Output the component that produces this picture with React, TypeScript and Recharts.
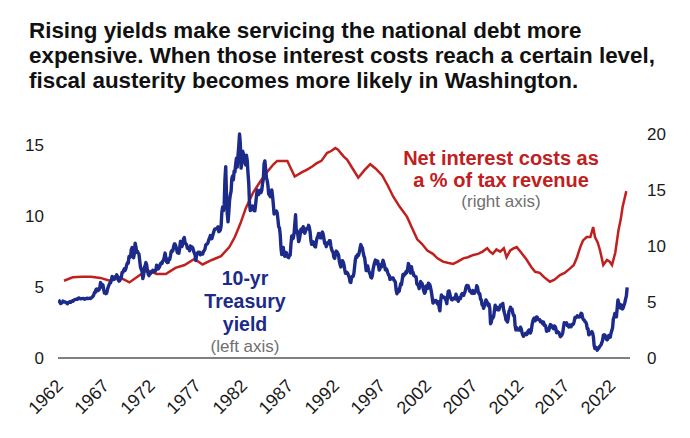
import React from 'react';
import { LineChart, Line, XAxis, YAxis } from 'recharts';

// 10-year Treasury yield, monthly, percent (left axis)
const yield1960s = [
  4.08, 4.04, 3.93, 3.84, 3.87, 3.91, 4.01, 3.98, 3.98, 3.93, 3.92, 3.86,
  3.83, 3.92, 3.93, 3.97, 3.93, 3.99, 4.02, 4.0, 4.08, 4.11, 4.12, 4.13,
  4.17, 4.15, 4.22, 4.23, 4.2, 4.17, 4.19, 4.19, 4.2, 4.19, 4.15, 4.18,
  4.19, 4.21, 4.21, 4.2, 4.21, 4.21, 4.2, 4.25, 4.29, 4.35, 4.45, 4.62,
  4.61, 4.83, 4.87, 4.75, 4.78, 4.81, 5.02, 5.32, 5.18, 5.01, 5.16, 4.84,
  4.58, 4.63, 4.54, 4.59, 4.85, 5.02, 5.16, 5.28, 5.3, 5.48, 5.75, 5.7,
  5.53, 5.56, 5.74, 5.64, 5.87, 5.72, 5.5, 5.42, 5.46, 5.58, 5.7, 6.03,
  6.04, 6.19, 6.3, 6.17, 6.32, 6.57, 6.72, 6.69, 7.16, 7.1, 7.14, 7.65,
];
const yield1970s = [
  7.79, 7.24, 7.07, 7.39, 8.1, 7.84, 7.46, 7.53, 7.39, 7.33, 6.84, 6.39,
  6.24, 6.11, 5.6, 5.83, 6.39, 6.52, 6.73, 6.58, 6.14, 5.93, 5.81, 5.93,
  5.95, 6.08, 6.07, 6.19, 6.13, 6.11, 6.11, 6.21, 6.55, 6.48, 6.28, 6.36,
  6.46, 6.64, 6.71, 6.67, 6.85, 6.9, 7.13, 7.4, 7.09, 6.79, 6.73, 6.74,
  6.99, 6.96, 7.21, 7.51, 7.58, 7.54, 7.81, 8.04, 8.04, 7.9, 7.68, 7.43,
  7.5, 7.39, 7.73, 8.23, 8.06, 7.86, 8.06, 8.4, 8.5, 8.14, 8.05, 8.0,
  7.74, 7.79, 7.73, 7.56, 7.9, 7.86, 7.83, 7.77, 7.59, 7.41, 7.29, 6.87,
  7.21, 7.39, 7.46, 7.37, 7.46, 7.28, 7.33, 7.4, 7.34, 7.52, 7.58, 7.69,
  7.96, 8.03, 8.04, 8.15, 8.35, 8.46, 8.64, 8.41, 8.42, 8.64, 8.81, 9.01,
  9.1, 9.1, 9.12, 9.18, 9.25, 8.91, 8.95, 9.03, 9.33, 10.3, 10.65, 10.39,
];
const yield1980s = [
  10.8, 12.6, 13.5, 11.47, 10.18, 9.6, 10.25, 11.1, 11.51, 11.75, 12.68, 12.84,
  12.57, 13.19, 13.12, 13.68, 14.1, 13.47, 14.28, 14.94, 15.8, 15.15, 13.39, 13.72,
  14.59, 14.43, 13.86, 13.87, 13.62, 14.3, 13.95, 13.06, 12.34, 10.91, 10.4, 10.54,
  10.46, 10.72, 10.51, 10.4, 10.38, 10.85, 11.38, 11.85, 11.65, 11.54, 11.69, 11.83,
  11.67, 11.84, 12.32, 12.63, 13.7, 13.9, 13.36, 12.72, 12.52, 12.16, 11.57, 11.5,
  11.38, 11.51, 11.86, 11.43, 10.85, 10.16, 10.31, 10.33, 10.37, 10.24, 9.78, 9.26,
  9.19, 8.7, 7.78, 7.3, 7.71, 7.8, 7.3, 7.17, 7.45, 7.43, 7.25, 7.11,
  7.08, 7.25, 7.25, 8.02, 8.61, 8.4, 8.45, 8.76, 9.42, 10.1, 8.86, 8.99,
  8.67, 8.21, 8.37, 8.72, 9.09, 8.92, 9.06, 9.26, 8.98, 8.8, 8.96, 9.11,
  9.09, 9.17, 9.36, 9.18, 8.86, 8.28, 8.02, 8.11, 8.19, 8.01, 7.87, 7.84,
];
const yield1990s = [
  8.21, 8.47, 8.59, 8.79, 8.76, 8.48, 8.47, 8.75, 8.89, 8.72, 8.39, 8.08,
  8.09, 7.85, 8.11, 8.04, 8.07, 8.28, 8.27, 7.9, 7.65, 7.53, 7.42, 7.09,
  7.03, 7.34, 7.54, 7.48, 7.39, 7.26, 6.84, 6.59, 6.42, 6.59, 6.87, 6.77,
  6.6, 6.26, 5.98, 5.97, 6.04, 5.96, 5.81, 5.68, 5.36, 5.33, 5.72, 5.77,
  5.75, 5.97, 6.48, 6.97, 7.18, 7.1, 7.3, 7.24, 7.46, 7.74, 8.0, 7.81,
  7.78, 7.47, 7.2, 7.06, 6.63, 6.17, 6.28, 6.49, 6.2, 6.04, 5.93, 5.71,
  5.65, 5.81, 6.27, 6.51, 6.74, 6.91, 6.87, 6.64, 6.83, 6.53, 6.2, 6.3,
  6.58, 6.42, 6.69, 6.89, 6.71, 6.49, 6.22, 6.3, 6.21, 6.03, 5.88, 5.81,
  5.54, 5.57, 5.65, 5.64, 5.65, 5.5, 5.46, 5.34, 4.81, 4.53, 4.83, 4.65,
  4.72, 5.0, 5.23, 5.18, 5.54, 5.9, 5.79, 5.94, 5.92, 6.11, 6.03, 6.28,
];
const yield2000s = [
  6.66, 6.52, 6.26, 5.99, 6.44, 6.1, 6.05, 5.83, 5.8, 5.74, 5.72, 5.24,
  5.16, 5.1, 4.89, 5.14, 5.39, 5.28, 5.24, 4.97, 4.73, 4.57, 4.65, 5.09,
  5.04, 4.91, 5.28, 5.21, 5.16, 4.93, 4.65, 4.26, 3.87, 3.94, 4.05, 4.03,
  4.05, 3.9, 3.81, 3.96, 3.57, 3.33, 3.98, 4.45, 4.27, 4.29, 4.3, 4.27,
  4.15, 4.08, 3.83, 4.35, 4.72, 4.73, 4.5, 4.28, 4.13, 4.1, 4.19, 4.23,
  4.22, 4.17, 4.5, 4.34, 4.14, 4.0, 4.18, 4.26, 4.2, 4.46, 4.54, 4.47,
  4.42, 4.57, 4.72, 4.99, 5.11, 5.11, 5.09, 4.88, 4.72, 4.73, 4.6, 4.56,
  4.76, 4.72, 4.56, 4.69, 4.75, 5.1, 5.0, 4.67, 4.52, 4.53, 4.15, 4.1,
  3.74, 3.74, 3.51, 3.68, 3.88, 4.1, 4.01, 3.89, 3.69, 3.81, 3.53, 2.42,
  2.52, 2.87, 2.82, 2.93, 3.29, 3.72, 3.56, 3.59, 3.4, 3.39, 3.4, 3.59,
];
const yield2010s = [
  3.73, 3.69, 3.73, 3.85, 3.42, 3.2, 3.01, 2.7, 2.65, 2.54, 2.76, 3.29,
  3.39, 3.58, 3.41, 3.46, 3.17, 3.0, 3.0, 2.3, 1.98, 2.15, 2.01, 1.98,
  1.97, 1.97, 2.17, 2.05, 1.8, 1.62, 1.53, 1.68, 1.72, 1.75, 1.65, 1.72,
  1.91, 1.98, 1.96, 1.76, 1.93, 2.3, 2.58, 2.74, 2.81, 2.62, 2.72, 2.9,
  2.86, 2.71, 2.72, 2.71, 2.56, 2.6, 2.54, 2.42, 2.53, 2.3, 2.33, 2.21,
  1.88, 1.98, 2.04, 1.94, 2.2, 2.36, 2.32, 2.17, 2.17, 2.07, 2.26, 2.24,
  2.09, 1.78, 1.89, 1.81, 1.81, 1.64, 1.5, 1.56, 1.63, 1.76, 2.14, 2.49,
  2.43, 2.42, 2.48, 2.3, 2.3, 2.19, 2.32, 2.21, 2.2, 2.36, 2.35, 2.4,
  2.58, 2.86, 2.84, 2.87, 2.98, 2.91, 2.89, 2.89, 3.0, 3.15, 3.12, 2.83,
  2.71, 2.68, 2.57, 2.53, 2.4, 2.07, 2.06, 1.63, 1.7, 1.71, 1.81, 1.86,
];
const yield2020s = [
  1.76, 1.5, 0.87, 0.66, 0.67, 0.73, 0.55, 0.65, 0.68, 0.79, 0.87, 0.93,
  1.08, 1.26, 1.61, 1.64, 1.62, 1.52, 1.32, 1.28, 1.37, 1.58, 1.56, 1.47,
  1.76, 1.93, 2.13, 2.75, 2.9, 3.14, 2.9, 2.9, 3.52, 4.1, 3.89, 3.62,
  3.53, 3.75, 3.66, 3.46, 3.57, 3.75, 3.9, 4.17, 4.38, 4.98,
];

// Net interest costs as a % of tax revenue (right axis)
const interestYears = [
  1962.65, 1963.6, 1964.6, 1965.6, 1966.6, 1967.6, 1968.6, 1969.75, 1970.7, 1971.7,
  1972.7, 1973.7, 1974.75, 1975.75, 1976.8, 1977.7, 1978.7, 1979.7, 1980.6, 1981.2,
  1981.8, 1982.4, 1983.2, 1984.0, 1984.7, 1985.4, 1985.8, 1986.9, 1987.7, 1988.5,
  1989.0, 1989.6, 1990.1, 1990.6, 1991.2, 1991.7, 1992.1, 1992.4, 1993.0, 1993.4,
  1994.0, 1994.6, 1995.3, 1995.9, 1996.5, 1997.2, 1997.8, 1998.4, 1999.1, 1999.9,
  2000.5, 2001.0, 2001.5, 2002.1, 2002.7, 2003.2, 2003.8, 2004.3, 2004.9, 2005.4,
  2006.0, 2006.5, 2007.1, 2007.6, 2008.1, 2008.6, 2008.9, 2009.2, 2009.6, 2010.0,
  2010.4, 2010.7, 2011.1, 2011.5, 2011.8, 2012.3, 2012.9, 2013.4, 2013.8, 2014.3,
  2014.8, 2015.4, 2015.9, 2016.5, 2017.0, 2017.6, 2018.0, 2018.35, 2018.7, 2019.0,
  2019.4, 2019.8, 2020.1, 2020.3, 2020.6, 2020.85, 2021.2, 2021.6, 2021.9, 2022.15,
  2022.5, 2022.85, 2023.1, 2023.3, 2023.5, 2023.7,
];
const interestShare = [
  6.9, 7.2, 7.25, 7.25, 7.15, 6.9, 7.25, 6.75, 7.3, 7.85,
  7.5, 7.5, 8.05, 8.3, 8.85, 8.35, 8.75, 9.1, 9.9, 10.8,
  12.0, 13.4, 14.8, 15.8, 16.6, 17.3, 17.6, 17.6, 16.2, 16.6,
  16.8, 17.1, 17.4, 17.6, 18.3, 18.5, 18.75, 18.6, 18.0, 17.7,
  16.9, 16.1, 16.8, 17.3, 16.9, 16.3, 15.4, 14.4, 13.5, 12.6,
  11.5, 10.6, 10.2, 9.6, 9.3, 8.9, 8.6, 8.5, 8.4, 8.6,
  8.9, 9.0, 9.2, 9.3, 9.5, 9.8, 9.5, 9.3, 9.7, 9.5,
  9.8, 9.0, 9.6, 9.8, 9.9, 9.4, 8.75, 8.1, 7.7, 7.6,
  7.2, 6.8, 7.0, 7.4, 7.6, 8.0, 8.3, 9.0, 9.9, 10.5,
  10.8, 10.8, 11.7, 10.8, 10.3, 9.6, 8.3, 8.75, 8.6, 8.3,
  9.4, 11.4, 12.4, 13.5, 14.2, 14.9,
];

const yearTicks = [1962, 1967, 1972, 1977, 1982, 1987, 1992, 1997, 2002, 2007, 2012, 2017, 2022];
const leftTicks = [0, 5, 10, 15];
const rightTicks = [0, 5, 10, 15, 20];

const titleLines = [
  'Rising yields make servicing the national debt more',
  'expensive. When those interest costs reach a certain level,',
  'fiscal austerity becomes more likely in Washington.',
];

const FONT = '"Liberation Sans", Arial, Helvetica, sans-serif';
const BLUE = '#1c2a8a';
const RED = '#c0201e';
const GRAY = '#6f6f6f';
const INK = '#1a1a1a';

const yieldMonthly = [
  ...yield1960s, ...yield1970s, ...yield1980s, ...yield1990s,
  ...yield2000s, ...yield2010s, ...yield2020s,
];
const yieldData = yieldMonthly.map((v, i) => ({ x: 1962 + (i + 0.5) / 12, v }));
const interestData = interestYears.map((x, i) => ({ x, v: interestShare[i] }));

// Year labels slanted up to the right, ending just below their tick
function YearTick(props: any) {
  const { x, y, payload } = props;
  const ax = x + 6;
  const ay = y + 9;
  return (
    <text
      x={ax}
      y={ay}
      transform={`rotate(-45, ${ax}, ${ay})`}
      textAnchor="end"
      fontSize={18}
      fill={INK}
    >
      {payload.value}
    </text>
  );
}

export default function App() {
  return (
    <div style={{ position: 'absolute', left: 0, top: 0, width: 690, height: 438, background: '#fff' }}>
      <LineChart
        width={690}
        height={438}
        margin={{ top: 134, right: 0, bottom: 0, left: 0 }}
        style={{ fontFamily: FONT }}
      >
        <XAxis
          dataKey="x"
          type="number"
          domain={[1962, 2024.1]}
          ticks={yearTicks}
          interval={0}
          allowDataOverflow
          height={80}
          tickLine={false}
          tickSize={0}
          tickMargin={20}
          axisLine={{ stroke: '#808080', strokeWidth: 2 }}
          tick={<YearTick />}
        />
        <YAxis
          yAxisId="left"
          orientation="left"
          domain={[0, 15.4]}
          ticks={leftTicks}
          width={58}
          axisLine={false}
          tickLine={false}
          tickSize={0}
          tickMargin={14}
          tick={{ fontSize: 17, fill: INK }}
        />
        <YAxis
          yAxisId="right"
          orientation="right"
          domain={[0, 20]}
          ticks={rightTicks}
          width={60}
          axisLine={false}
          tickLine={false}
          tickSize={0}
          tickMargin={17}
          tick={{ fontSize: 17, fill: INK }}
        />
        <Line
          data={interestData}
          dataKey="v"
          yAxisId="right"
          type="linear"
          stroke={RED}
          strokeWidth={2.5}
          dot={false}
          activeDot={false}
          isAnimationActive={false}
        />
        <Line
          data={yieldData}
          dataKey="v"
          yAxisId="left"
          type="linear"
          stroke={BLUE}
          strokeWidth={3.4}
          strokeLinejoin="round"
          dot={false}
          activeDot={false}
          isAnimationActive={false}
        />
      </LineChart>
      <svg
        width={690}
        height={438}
        style={{ position: 'absolute', left: 0, top: 0, pointerEvents: 'none', fontFamily: FONT }}
      >
        {titleLines.map((line, i) => (
          <text key={line} x={29} y={38 + i * 25} fontSize={22.4} fontWeight="bold" fill="#111">
            {line}
          </text>
        ))}
        <g textAnchor="middle" fontWeight="bold" fill={BLUE} fontSize={19.5}>
          <text x={245} y={285}>10-yr</text>
          <text x={245} y={308}>Treasury</text>
          <text x={245} y={331}>yield</text>
        </g>
        <text x={245} y={352} textAnchor="middle" fontSize={17} fill={GRAY}>(left axis)</text>
        <g textAnchor="middle" fontWeight="bold" fill={RED} fontSize={20}>
          <text x={501} y={165}>Net interest costs as</text>
          <text x={501} y={187}>a % of tax revenue</text>
        </g>
        <text x={501} y={207} textAnchor="middle" fontSize={17} fill={GRAY}>(right axis)</text>
      </svg>
    </div>
  );
}
